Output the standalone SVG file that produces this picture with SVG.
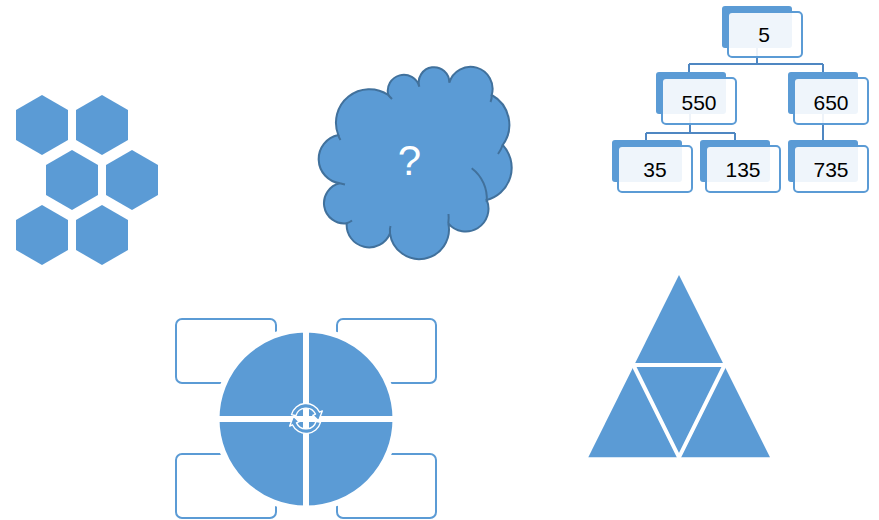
<svg xmlns="http://www.w3.org/2000/svg" width="879" height="520" viewBox="0 0 879 520">
<style>
.blue{fill:#5b9bd5}
.back{fill:#5b9bd5}
.front{fill:#ffffff;fill-opacity:0.9;stroke:#5b9bd5;stroke-width:2}
.lbl{font-family:"Liberation Sans",Arial,sans-serif;font-size:21px;fill:#000;text-anchor:middle}
.conn{fill:none;stroke:#4f87c2;stroke-width:2}
.box{fill:#fff;stroke:#5b9bd5;stroke-width:2}
.quad{fill:#5b9bd5;stroke:#fff;stroke-width:6;stroke-linejoin:round}
.arw{fill:#5b9bd5;stroke:#fff;stroke-width:1.4;stroke-linejoin:round}
</style>
<defs>
<polygon id="hex" points="0,-30 26,-15 26,15 0,30 -26,15 -26,-15"/>
</defs>
<rect width="879" height="520" fill="#fff"/>

<g id="hexagons" class="blue">
<use href="#hex" x="42" y="125"/>
<use href="#hex" x="102" y="125"/>
<use href="#hex" x="72" y="180"/>
<use href="#hex" x="132" y="180"/>
<use href="#hex" x="42" y="235"/>
<use href="#hex" x="102" y="235"/>
</g>

<g id="cloud">
<path d="M338.3 135 A33.5 33.5 0 0 1 388.3 95 A16 16 0 1 1 419.3 86.7 A15.3 15.3 0 1 1 449.3 82.7 A22 22 0 0 1 491.7 95 A34 34 0 0 1 502.7 145 A33.3 33.3 0 0 1 486.7 200 A22.7 22.7 0 0 1 448.3 223.3 A29.6 29.6 0 1 1 390 233.3 A22.5 22.5 0 0 1 346.7 223.3 A20.3 20.3 0 0 1 340 183.3 A24.5 24.5 0 0 1 338.3 135 Z" fill="#5b9bd5" stroke="#41719c" stroke-width="2"/>
<path d="M471.7 168.3 A38 38 0 0 1 486.7 202 M491.7 95 Q492 99 490.5 102 M502.7 145 Q501 150 498 154 M448.3 223.3 Q449 218 448.5 214 M390 233.3 Q389.5 229 390.5 226 M346.7 223.3 Q350 222 352 220.5 M340 183.3 Q343 184 345 184.5 M388.3 95 Q390 97 392 99 M338.3 135 Q339 138 340.5 140" fill="none" stroke="#41719c" stroke-width="2"/>
<text x="409.5" y="175" font-family="'Liberation Sans',Arial,sans-serif" font-size="42" fill="#fff" text-anchor="middle">?</text>
</g>

<g id="connectors">
<path class="conn" d="M757 48 V64 M689 64 H823 M689 64 V78 M823 64 V78 M690 114 V133 M646 133 H735 M646 133 V146 M735 133 V146 M823 114 V146"/>
</g>

<g id="node-5">
<rect class="back" x="722" y="6" width="70" height="42" rx="3"/>
<rect class="front" x="728" y="12" width="74" height="45" rx="4"/>
<text class="lbl" x="764" y="42">5</text>
</g>
<g id="node-550">
<rect class="back" x="656" y="72" width="70" height="42" rx="3"/>
<rect class="front" x="662" y="78" width="74" height="46" rx="4"/>
<text class="lbl" x="699" y="110">550</text>
</g>
<g id="node-650">
<rect class="back" x="788" y="72" width="70" height="42" rx="3"/>
<rect class="front" x="794" y="78" width="74" height="46" rx="4"/>
<text class="lbl" x="831" y="110">650</text>
</g>
<g id="node-35">
<rect class="back" x="612" y="140" width="70" height="42" rx="3"/>
<rect class="front" x="618" y="146" width="74" height="46" rx="4"/>
<text class="lbl" x="655" y="177">35</text>
</g>
<g id="node-135">
<rect class="back" x="700" y="140" width="70" height="42" rx="3"/>
<rect class="front" x="706" y="146" width="74" height="46" rx="4"/>
<text class="lbl" x="743" y="177">135</text>
</g>
<g id="node-735">
<rect class="back" x="788" y="140" width="70" height="42" rx="3"/>
<rect class="front" x="794" y="146" width="74" height="46" rx="4"/>
<text class="lbl" x="831" y="177">735</text>
</g>

<g id="cycle">
<rect class="box" x="176" y="319" width="100" height="64" rx="6"/>
<rect class="box" x="337" y="319" width="99" height="64" rx="6"/>
<rect class="box" x="176" y="454" width="100" height="64" rx="6"/>
<rect class="box" x="337" y="454" width="99" height="64" rx="6"/>
<path class="quad" d="M306 419 L216.5 419 A89.5 89.5 0 0 1 306 329.5 Z"/>
<path class="quad" d="M306 419 L306 329.5 A89.5 89.5 0 0 1 395.5 419 Z"/>
<path class="quad" d="M306 419 L395.5 419 A89.5 89.5 0 0 1 306 508.5 Z"/>
<path class="quad" d="M306 419 L306 508.5 A89.5 89.5 0 0 1 216.5 419 Z"/>
<g id="cycle-icon">
<path class="arw" d="M291.5 414.6 A15 15 0 0 1 319.6 412.2 L322.3 410.9 L318.6 420.7 L312.8 415.3 L315.5 414.1 A10.5 10.5 0 0 0 295.9 415.8 Z"/>
<path class="arw" d="M320.5 422.4 A15 15 0 0 1 292.4 424.8 L289.7 426.1 L293.4 416.3 L299.2 421.7 L296.5 422.9 A10.5 10.5 0 0 0 316.1 421.2 Z"/>
</g>
</g>

<g id="triangle">
<polygon class="blue" points="679,275 588.3,457.3 770,457.3"/>
<path d="M633.3 365 H724.7 M633.3 365 L679 457.3 L724.7 365" fill="none" stroke="#fff" stroke-width="4"/>
</g>
</svg>
